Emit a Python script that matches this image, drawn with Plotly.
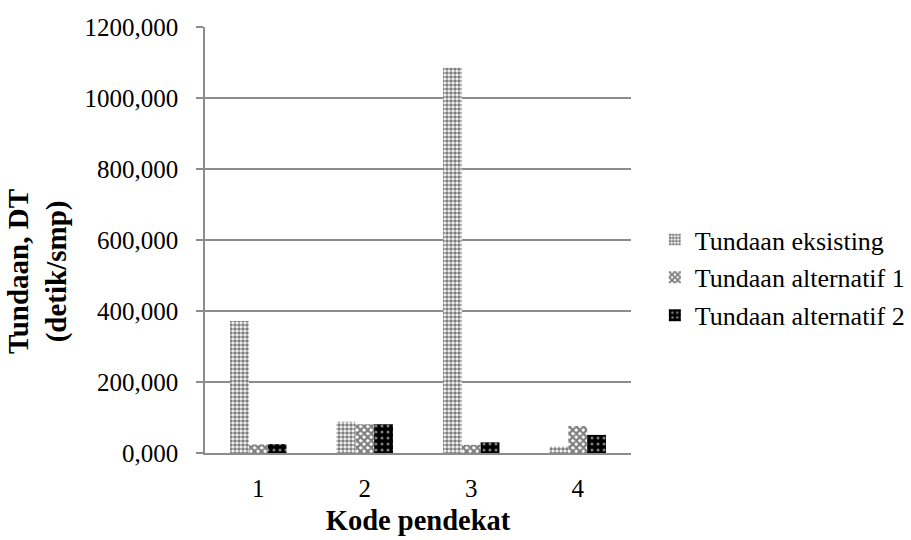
import plotly.graph_objects as go

# Delay per approach code (detik/smp)
categories = ["1", "2", "3", "4"]
tundaan_eksisting = [372, 88, 1085, 18]
tundaan_alt1 = [24, 81, 23, 76]
tundaan_alt2 = [25, 81, 30, 51]
series_names = ["Tundaan eksisting", "Tundaan alternatif 1", "Tundaan alternatif 2"]

FONT = "Liberation Serif, Times New Roman, serif"
GRID = "#8c8c8c"

fig = go.Figure()
fig.add_trace(go.Bar(
    x=categories, y=tundaan_eksisting, name=series_names[0], legendgroup="a",
    marker=dict(color="white", line=dict(width=0),
                pattern=dict(shape=".", fgcolor="black", bgcolor="white",
                             size=4, solidity=0.65, fillmode="overlay")),
))
fig.add_trace(go.Bar(
    x=categories, y=tundaan_alt1, name=series_names[1], legendgroup="b",
    marker=dict(color="white", line=dict(width=0),
                pattern=dict(shape="x", fgcolor="black", bgcolor="white",
                             size=5, solidity=0.7, fillmode="overlay")),
))
fig.add_trace(go.Bar(
    x=categories, y=tundaan_alt2, name=series_names[2], legendgroup="c",
    marker=dict(color="black", line=dict(width=0),
                pattern=dict(shape=".", fgcolor="white", bgcolor="black",
                             size=6, solidity=0.2, fillmode="overlay")),
))

fig.update_layout(
    width=911, height=540,
    margin=dict(l=205, r=280, t=27, b=87, autoexpand=False),
    paper_bgcolor="white", plot_bgcolor="white",
    font=dict(family=FONT, size=25, color="black"),
    barmode="group", bargap=0.47, bargroupgap=0,
    separators=",.",
    showlegend=True,
    legend=dict(x=1.056, xanchor="left", y=0.556, yanchor="top",
                font=dict(family=FONT, size=26), itemwidth=30,
                tracegroupgap=1, bgcolor="rgba(0,0,0,0)"),
    xaxis=dict(
        showgrid=False, showline=True, linecolor=GRID, linewidth=1.5,
        ticks="", tickfont=dict(size=25), ticklabelstandoff=12,
        title=dict(text="<b>Kode pendekat</b>", font=dict(size=28.5), standoff=9),
    ),
    yaxis=dict(
        range=[0, 1200], dtick=200, tickformat=".3f",
        showgrid=True, gridcolor=GRID, gridwidth=1.5,
        showline=True, linecolor=GRID, linewidth=1.5,
        ticks="outside", ticklen=7, tickcolor=GRID, tickwidth=1.5,
        tickfont=dict(size=25), ticklabelstandoff=13, zeroline=False,
    ),
    annotations=[dict(
        text="<b>Tundaan, DT<br>(detik/smp)</b>", textangle=-90,
        xref="paper", yref="paper", x=-0.392, y=0.425,
        xanchor="center", yanchor="middle", showarrow=False,
        font=dict(family=FONT, size=29),
    )],
)

fig.write_html("out.html")
